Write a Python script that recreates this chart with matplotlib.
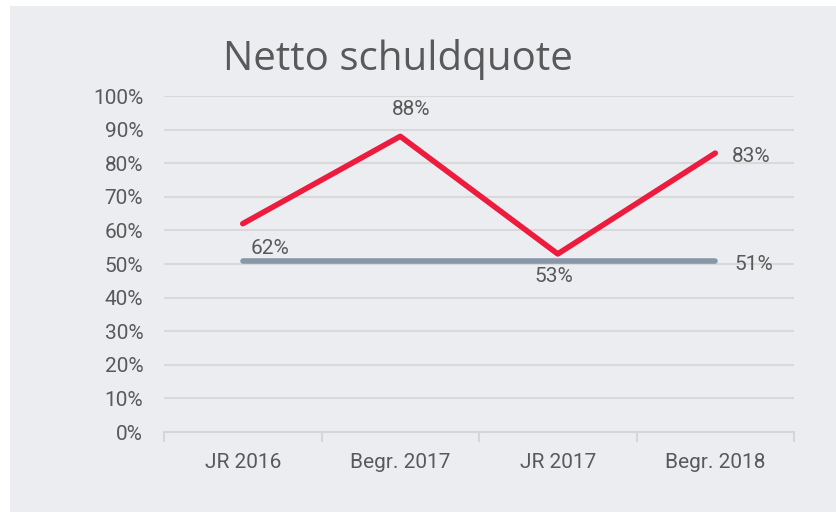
import matplotlib
matplotlib.use("Agg")
import matplotlib.pyplot as plt
from matplotlib.patches import Rectangle
from matplotlib.ticker import FixedLocator, PercentFormatter

categories = ["JR 2016", "Begr. 2017", "JR 2017", "Begr. 2018"]
schuldquote = [62, 88, 53, 83]
norm = [51, 51, 51, 51]

RED = "#ed1b3d"
GREY = "#8796a9"
TXT = "#595959"
BG = "#ecedf1"

fig = plt.figure(figsize=(8.36, 5.12), dpi=100)
fig.patch.set_facecolor("white")
fig.patches.append(Rectangle((10 / 836, 0), 1, 1 - 6 / 512, transform=fig.transFigure,
                             facecolor=BG, edgecolor="none", zorder=-10))

ax = fig.add_axes([164 / 836, 1 - 432 / 512, 630 / 836, 336 / 512])
ax.set_facecolor("none")

x = list(range(len(categories)))
ax.plot(x, norm, color=GREY, lw=4, solid_capstyle="round", zorder=3)
ax.plot(x, schuldquote, color=RED, lw=4, solid_capstyle="round", zorder=4)

ax.set_xlim(-0.5, len(categories) - 0.5)
ax.set_ylim(0, 100)
ax.set_yticks(range(0, 101, 10))
ax.yaxis.set_major_formatter(PercentFormatter(decimals=0))
ax.set_xticks(x)
ax.set_xticklabels(categories)
ax.xaxis.set_minor_locator(FixedLocator([i - 0.5 for i in range(len(categories) + 1)]))
ax.tick_params(axis="x", which="major", length=0, pad=15, labelsize=15, labelcolor=TXT)
ax.tick_params(axis="x", which="minor", length=7, width=1.5, color="#d6d6d6")
ax.tick_params(axis="y", length=0, pad=15, labelsize=15, labelcolor=TXT)
for lab in ax.get_xticklabels() + ax.get_yticklabels():
    lab.set_family("Roboto")

ax.grid(axis="y", color="#d9d9d9", lw=1.5)
ax.set_axisbelow(True)
for s in ("top", "right", "left"):
    ax.spines[s].set_visible(False)
ax.spines["bottom"].set_color("#d6d6d6")
ax.spines["bottom"].set_linewidth(1.5)

# data labels (pixel offsets from the point)
red_offsets = [(27, -25), (11, 27), (-4, -23), (36, -3)]
for xi, v, (dx, dy) in zip(x, schuldquote, red_offsets):
    ax.annotate(f"{v}%", (xi, v), xytext=(dx, dy), textcoords="offset pixels",
                ha="center", va="center", fontsize=15, color=TXT, family="Roboto")
ax.annotate(f"{norm[-1]}%", (x[-1], norm[-1]), xytext=(39, -4), textcoords="offset pixels",
            ha="center", va="center", fontsize=15, color=TXT, family="Roboto")

fig.text(398 / 836, 1 - 70 / 512, "Netto schuldquote", ha="center", va="baseline",
         fontsize=29, color=TXT, family="Open Sans")

fig.savefig("out.png", dpi=100)
